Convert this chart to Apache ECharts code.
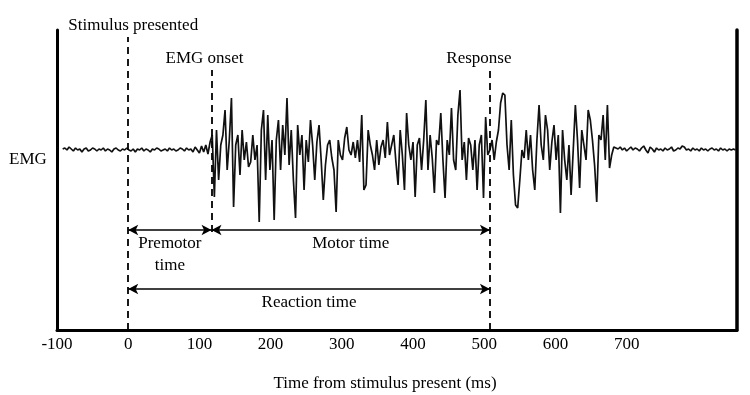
<!DOCTYPE html>
<html>
<head>
<meta charset="utf-8">
<title>EMG reaction time</title>
<script src="https://cdn.jsdelivr.net/npm/echarts@6/dist/echarts.min.js"></script>
<style>
  html, body { margin: 0; padding: 0; background: #fff; }
  #chart { width: 750px; height: 395px; }
</style>
</head>
<body>
<div id="chart"></div>
<script>
// EMG trace, sampled every 3 ms starting at -92 ms (amplitude in arbitrary units)
var sampleStartMs = -92;
var sampleStepMs = 3;
var emgValues = [
  // resting baseline
  1, 2, 0, 3, 1, -1, 2, 0, 1, -2,
  1, 2, -1, 0, 2, 1, -1, 1, 0, 2,
  -1, 1, 0, -2, 1, 2, 0, -1, 1, 0,
  2, 0, -1, 1, -2, 1, 0, 2, -1, 1,
  0, -2, 1, 0, 2, 1, -1, 0, 1, -1,
  2, 0, 1, -1, 0, 2, 1, -1, 2, 0,
  1, -2, 3, 0, -3, 4, -2, 5, -4,
  // burst
  8, 15, -47, 20, -30, 5, 15, 40, -20, 10,
  52, -57, 5, 15, -25, 20, -10, 8, -17, -12,
  15, -10, 5, -72, 20, 40, -30, 35, -20, 10,
  -70, 10, 30, -20, 25, -5, 52, -15, 20, -30,
  -68, 25, -5, 15, -40, 10, -12, 30, 5, -30,
  8, 25, -10, -50, -15, 5, 10, -8, -20, -62,
  10, -5, -10, 12, 23, 0, -5, 8, -8, 10,
  -12, 35, -40, -35, 20, 5, -5, -20, 10, -15,
  3, 10, -8, 28, -5, 5, 15, -12, -35, 20,
  -5, -40, 37, 5, -10, 8, -47, 5, 12, -20,
  10, 50, -20, 15, -8, -43, 10, 5, 37, -10,
  -48, 10, -5, 42, -10, -20, 35, 60, -10, 8,
  -30, 12, 5, -20, 10, -40, 5, 15, -48, 33,
  -5, 0, 10, -10, 8, 20, 47, 57, 55, 5,
  -20, 30, -25, -55, -58, -30, 0, -8, 20, -10,
  15, -20, -40, 10, 45, 5, -10, 35, 20, -20,
  8, 25, -10, 15, -63, 20, -10, -30, 5, -45,
  0, 45, 10, -38, 20, 5, -10, 40, 30, 10,
  -15, -52, 15, 10, 35, -10, 45, -18, -5, 3,
  // back to baseline
  2, 1, 3, 0, 2, -1, 1, 3, 0, 2,
  1, -1, 2, 4, 0, -3, 3, 1, -2, 2,
  0, 1, -1, 2, 0, 1, 3, -1, 0, 2,
  1, 4, 3, 0, 1, -1, 2, 0, 1, -1,
  2, 0, 1, -1, 1, 2, 0, 1, -1, 2,
  0, 1, -1, 1, 0, 1, 0
];

var xTicks = [-100, 0, 100, 200, 300, 400, 500, 600, 700];

// event times (ms)
var eventNames = ['Stimulus presented', 'EMG onset', 'Response'];
var eventTimes = [0, 117, 508];

// intervals between events (ms)
var spanNames = ['Premotor\ntime', 'Motor time', 'Reaction time'];
var spanStarts = [0, 117, 0];
var spanEnds = [117, 508, 508];

var font = 'Liberation Serif, Times New Roman, serif';

var emgData = emgValues.map(function (v, i) {
  return [sampleStartMs + i * sampleStepMs, v];
});

var chart = echarts.init(document.getElementById('chart'), null, { renderer: 'canvas' });

var dashed = { color: '#000', width: 1.8, type: [7, 5] };
var eventLines = [
  // [time, top, bottom, label padding]
  [eventTimes[0], 113, -180, [0, 0, 0, 10]],
  [eventTimes[1], 80, -82, [0, 14, 0, 0]],
  [eventTimes[2], 80, -180, [0, 22, 0, 0]]
].map(function (e, i) {
  return [
    { coord: [e[0], e[2]] },
    {
      coord: [e[0], e[1]],
      label: {
        show: true, position: 'end', formatter: eventNames[i],
        padding: e[3], distance: 3,
        fontFamily: font, fontSize: 17, color: '#000'
      }
    }
  ];
});

var spanLevels = [-80, -80, -139];
var spanLines = spanNames.map(function (name, i) {
  return [
    { coord: [spanStarts[i], spanLevels[i]] },
    {
      coord: [spanEnds[i], spanLevels[i]],
      label: {
        show: true, position: 'insideMiddleBottom', formatter: name,
        distance: 3, lineHeight: 22,
        fontFamily: font, fontSize: 17, color: '#000'
      }
    }
  ];
});

var option = {
  animation: false,
  grid: {
    left: 57,
    right: 13,
    top: 30,
    bottom: 65,
    outerBoundsMode: 'none'
  },
  graphic: [{
    type: 'text',
    left: 9,
    top: 151,
    style: { text: 'EMG', font: '17px ' + font, fill: '#000' }
  }],
  xAxis: {
    type: 'value',
    min: -100,
    max: 855,
    interval: 100,
    name: 'Time from stimulus present (ms)',
    nameLocation: 'middle',
    nameGap: 45,
    nameTextStyle: { fontFamily: font, fontSize: 17, color: '#000', padding: [0, 24, 0, 0] },
    axisLine: { show: true, onZero: false, lineStyle: { color: '#000', width: 3 } },
    axisTick: { show: false },
    splitLine: { show: false },
    axisLabel: {
      margin: 6,
      fontFamily: font, fontSize: 17, color: '#000',
      formatter: function (v) { return xTicks.indexOf(v) >= 0 ? String(v) : ''; }
    }
  },
  yAxis: [{
    type: 'value',
    min: -180,
    max: 120,
    axisLine: { show: true, onZero: false, lineStyle: { color: '#000', width: 3 } },
    axisTick: { show: false },
    axisLabel: { show: false },
    splitLine: { show: false }
  }, {
    type: 'value',
    position: 'right',
    min: -180,
    max: 120,
    axisLine: { show: true, onZero: false, lineStyle: { color: '#000', width: 3.5 } },
    axisTick: { show: false },
    axisLabel: { show: false },
    splitLine: { show: false }
  }],
  series: [{
    name: 'EMG',
    type: 'line',
    data: emgData,
    showSymbol: false,
    symbol: 'none',
    silent: true,
    lineStyle: { color: '#111', width: 1.7 },
    z: 2
  }, {
    name: 'events',
    type: 'line',
    data: [],
    silent: true,
    markLine: {
      silent: true,
      symbol: ['none', 'none'],
      lineStyle: dashed,
      data: eventLines
    },
    z: 3
  }, {
    name: 'spans',
    type: 'line',
    data: [],
    silent: true,
    markLine: {
      silent: true,
      symbol: ['arrow', 'arrow'],
      symbolSize: [8, 10],
      lineStyle: { color: '#000', width: 1.5, type: 'solid' },
      data: spanLines
    },
    z: 3
  }]
};

chart.setOption(option);
</script>
</body>
</html>
